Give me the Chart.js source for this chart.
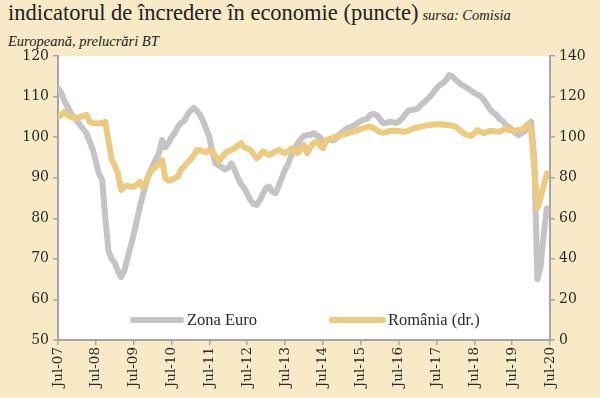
<!DOCTYPE html>
<html>
<head>
<meta charset="utf-8">
<script src="https://cdn.jsdelivr.net/npm/chart.js@4/dist/chart.umd.min.js"></script>
<style>
  html, body { margin:0; padding:0; background:#f8eac6; }
  #wrap { position:relative; width:600px; height:398px; overflow:hidden; }
  #title { position:absolute; left:8px; top:0px; width:590px; font-family:"Liberation Serif","Times New Roman",serif; color:#222; line-height:25px; }
  #title .big { font-size:22.5px; }
  #title .src { font-size:14.5px; font-style:italic; }
  canvas { position:absolute; left:0; top:0; }
</style>
</head>
<body>
<div id="wrap">
  <div id="title"><span class="big">indicatorul de încredere în economie (puncte)</span> <span class="src">sursa: Comisia<br>Europeană, prelucrări BT</span></div>
  <canvas id="c" width="600" height="398"></canvas>
</div>
<script>
// x-axis tick labels (every 12 months, Jul-07 .. Jul-20)
const tickLabels = ["Jul-07","Jul-08","Jul-09","Jul-10","Jul-11","Jul-12","Jul-13","Jul-14","Jul-15","Jul-16","Jul-17","Jul-18","Jul-19","Jul-20"];
const seriesNames = ["Zona Euro", "România (dr.)"];

// Zona Euro (left axis), monthly values from Jul-07
const zonaEuro = [
112,111,109,107.5,106,105,104,103,102,101,99,97,94,91,89.5,80,72,70,69,67,
65.5,67,70,73,76,79.5,83,86,89,91,93,94.5,96,99.3,97.5,98.5,100,101,102.5,103.5,
104,105.5,106.5,107.2,106.5,105.5,104,102,100,96,93.5,93,92.5,92,92.5,93.5,92,90,88.5,87.5,
86,84.5,83.5,83.3,84.5,86,87.5,87.8,86.5,86.2,88,90,92,93.5,95.5,97,98.5,99.5,100.3,100.5,
100.5,101,100.5,100,99,98.9,99.5,99.2,99.5,100.5,101.2,101.8,102.3,102.5,103,103.5,104,104.3,104.5,105.5,
105.7,105.5,104.5,103.5,103.5,103.8,103.7,103.5,103.8,104.5,105.5,106.5,106.7,106.8,107,107.9,108.5,109.3,110,111,
112,112.8,113.3,114,115.3,115,114.2,113.5,112.9,112.5,112,111.4,110.9,110.5,110,109.2,108,106.8,106,105.5,
104.5,104,103,102.5,101.8,101,100.5,101,101.4,102.5,103.8,95,65,68,76,82.5
];

// România (right axis), monthly values from Jul-07
const romania = [
110,111,112.5,111,110,109.5,109.3,110,110.5,111,107.6,107,106.8,106.8,107,107.6,98,89,86,82,
74,75.5,76,75.6,75.6,76.5,78,75,78,82.2,84,85.5,87,88.8,79.8,78.5,79,79.8,80.5,84,
85.5,87.5,88.8,91,93.7,93.5,92.9,92.5,93.7,92.5,90.4,88,90,92,93,93.7,94.5,96,97,95,
94.5,93.7,91.5,89.6,91,92.9,92,91.2,92,93,93.7,92.8,92.1,93,94.5,93,92.1,94,96.2,92.1,
95,97,97.8,96,94.5,98.6,99,99.5,100.3,100.3,101.1,101.5,101.9,102.5,103,103.5,104,104.5,105,105.2,
104.5,103.5,102.5,102.2,102.5,103,103.2,103.2,103,102.8,102.7,103.2,103.8,104.5,104.9,105.2,105.5,105.8,106,106.2,
106.3,106.5,106.2,106,106,105.5,105.2,104,102.7,101.5,101,100.6,102,103.5,102.5,101.9,102.5,103,103,102.8,
102.7,103.5,104.4,103.5,103.2,103.2,103.5,103.5,105,106.5,103.5,85,65,70,76,82.2
];

const GRAY = '#c4c4c8';
const GOLD = '#ecca7f';
const AXIS = '#a6a6a6';
const TXT = '#2a2a2a';
const FONT = '"Liberation Serif","Times New Roman",serif';
const TICKFONT = '"DejaVu Serif","Liberation Serif",serif';

const toXY = arr => arr.map((v, i) => ({x: i, y: v}));

const plotBg = {
  id: 'plotBg',
  beforeDraw(chart) {
    const {ctx, chartArea: a} = chart;
    ctx.save();
    ctx.fillStyle = '#ffffff';
    ctx.fillRect(a.left, a.top, a.right - a.left, a.bottom - a.top);
    ctx.restore();
  }
};

const innerLegend = {
  id: 'innerLegend',
  afterDatasetsDraw(chart) {
    const {ctx} = chart;
    const items = [
      {ds: chart.data.datasets[0], x1: 133, x2: 181, tx: 187},
      {ds: chart.data.datasets[1], x1: 332, x2: 383, tx: 388}
    ];
    const y = 320;
    ctx.save();
    items.forEach(it => {
      ctx.strokeStyle = it.ds.borderColor;
      ctx.lineWidth = 6;
      ctx.lineCap = 'round';
      ctx.beginPath();
      ctx.moveTo(it.x1, y);
      ctx.lineTo(it.x2, y);
      ctx.stroke();
      ctx.fillStyle = TXT;
      ctx.font = '16.5px ' + FONT;
      ctx.textBaseline = 'middle';
      ctx.textAlign = 'left';
      ctx.fillText(it.ds.label, it.tx, y + 1);
    });
    ctx.restore();
  }
};

new Chart(document.getElementById('c'), {
  type: 'line',
  data: {
    datasets: [
      { label: seriesNames[0], data: toXY(zonaEuro), yAxisID: 'y', borderColor: GRAY, borderWidth: 6, pointRadius: 0, tension: 0, order: 2, borderJoinStyle: 'round', borderCapStyle: 'round' },
      { label: seriesNames[1], data: toXY(romania), yAxisID: 'y2', borderColor: GOLD, borderWidth: 6, pointRadius: 0, tension: 0, order: 1, borderJoinStyle: 'round', borderCapStyle: 'round' }
    ]
  },
  options: {
    responsive: false,
    animation: false,
    devicePixelRatio: 1,
    layout: { padding: { top: 56, left: 0, right: 0, bottom: 0 } },
    plugins: { legend: { display: false }, tooltip: { enabled: false }, title: { display: false } },
    scales: {
      x: {
        type: 'linear', min: 0, max: 156,
        afterBuildTicks(s) { s.ticks = tickLabels.map((_, i) => ({value: i * 12})); },
        ticks: {
          callback: (v) => tickLabels[Math.round(v / 12)],
          minRotation: 90, maxRotation: 90, autoSkip: false,
          color: TXT, font: { family: TICKFONT, size: 13.5 }, padding: 2
        },
        grid: { display: true, drawOnChartArea: false, drawTicks: true, tickLength: 5, color: AXIS, lineWidth: 1.5 },
        border: { display: true, color: AXIS, width: 2 },
        afterFit(s) { s.height = 58; }
      },
      y: {
        position: 'left', min: 50, max: 120,
        ticks: { stepSize: 10, color: TXT, font: { family: TICKFONT, size: 14 }, padding: 4 },
        grid: { display: true, drawOnChartArea: false, drawTicks: true, tickLength: 5, color: AXIS, lineWidth: 1.5 },
        border: { display: true, color: AXIS, width: 2 },
        afterFit(s) { s.width = 58; }
      },
      y2: {
        position: 'right', min: 0, max: 140,
        ticks: { stepSize: 20, color: TXT, font: { family: TICKFONT, size: 14 }, padding: 4 },
        grid: { display: true, drawOnChartArea: false, drawTicks: true, tickLength: 5, color: AXIS, lineWidth: 1.5 },
        border: { display: true, color: AXIS, width: 2 },
        afterFit(s) { s.width = 50; }
      }
    }
  },
  plugins: [plotBg, innerLegend]
});
</script>
</body>
</html>
